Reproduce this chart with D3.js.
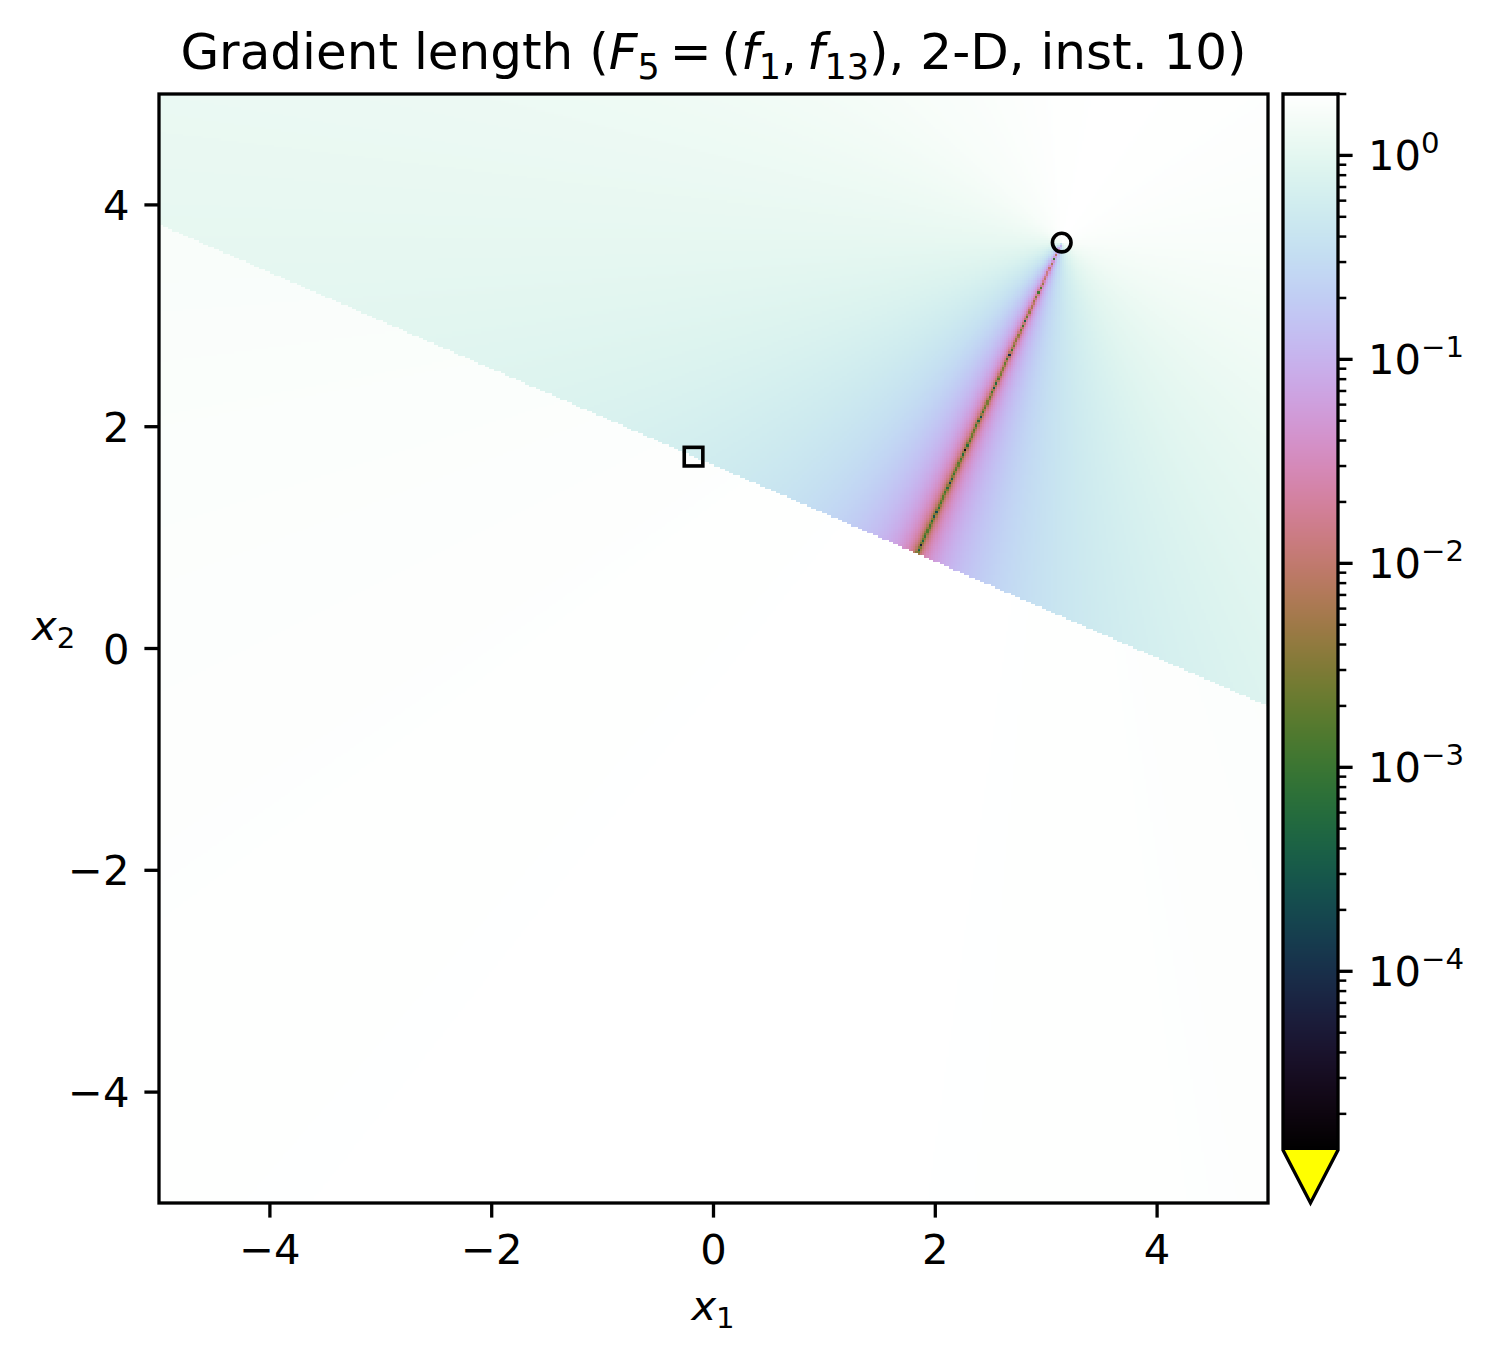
<!DOCTYPE html>
<html><head><meta charset="utf-8">
<script src="https://cdn.jsdelivr.net/npm/d3@7"></script>
<style>body{margin:0;background:#fff} svg{display:block} text{font-family:"DejaVu Sans",sans-serif;fill:#000}</style>
</head><body>
<svg id="chart" width="1494" height="1359"></svg>
<script>
// ---------------- data ----------------
const xTicks = [-4, -2, 0, 2, 4];
const yTicks = [-4, -2, 0, 2, 4];
const cbarMajorExp = [0, -1, -2, -3, -4];
const f1Optimum = [3.14, 3.66];    // open circle
const f13Optimum = [-0.18, 1.73];  // open square
const ridgeX = [-5, 5];            // ridge of f13 (edge of the white region)
const ridgeY = [3.825, -0.52];
// gradient length above the ridge, by direction (deg) seen from the circle
const upperAngle = [0, 30, 65, 90, 135, 180, 200, 210, 225, 235, 240, 243, 245.05, 247, 250, 255, 260, 270, 285, 300, 330, 360];
const upperValue = [1.69, 1.90, 2.00, 1.95, 1.64, 1.07, 0.77, 0.60, 0.35, 0.17, 0.087, 0.035, 0.00002, 0.035, 0.087, 0.17, 0.26, 0.43, 0.68, 0.93, 1.35, 1.69];
// gradient length below the ridge, by direction (deg) seen from the circle
const lowerAngle = [170, 180, 200, 225, 246, 270, 295, 300];
const lowerValue = [1.62, 1.70, 1.84, 1.96, 2.00, 1.96, 1.83, 1.80];
const colorMin = 1.33e-5, colorMax = 2.0;
const gridCells = 500;

// ---------------- layout ----------------
const L = 159, R = 1268, T = 94, B = 1203;
const CB = {x0: 1283, x1: 1338, top: 94, bot: 1150, tip: 1203};
const FS = 41.7;

const svg = d3.select('#chart');
const x = d3.scaleLinear().domain([-5, 5]).range([L, R]);
const y = d3.scaleLinear().domain([-5, 5]).range([B, T]);
const color = d3.scaleSequentialLog(d3.interpolateCubehelixDefault).domain([colorMin, colorMax]).clamp(true);
const upper = d3.scaleLinear().domain(upperAngle).range(upperValue).clamp(true);
const lower = d3.scaleLinear().domain(lowerAngle).range(lowerValue).clamp(true);
const ridge = d3.scaleLinear().domain(ridgeX).range(ridgeY);

// ---------------- heatmap ----------------
const W = R - L, H = B - T;
const canvas = document.createElement('canvas');
canvas.width = W; canvas.height = H;
const ctx = canvas.getContext('2d');
const step = 10 / gridCells;
for (let i = 0; i < gridCells; i++) {
  const xa = -5 + i * step, xb = xa + step, xc = xa + step / 2;
  const px0 = Math.round(x(xa)) - L, px1 = Math.round(x(xb)) - L;
  for (let j = 0; j < gridCells; j++) {
    const ya = -5 + j * step, yb = ya + step, yc = ya + step / 2;
    const py0 = Math.round(y(yb)) - T, py1 = Math.round(y(ya)) - T;
    let ang = Math.atan2(yc - f1Optimum[1], xc - f1Optimum[0]) * 180 / Math.PI;
    if (ang < 0) ang += 360;
    const v = yc > ridge(xc) ? upper(ang) : lower(ang);
    ctx.fillStyle = v < colorMin ? '#ffff00' : color(v);
    ctx.fillRect(px0, py0, px1 - px0, py1 - py0);
  }
}
svg.append('image').attr('x', L).attr('y', T).attr('width', W).attr('height', H)
  .attr('preserveAspectRatio', 'none').attr('href', canvas.toDataURL());

// markers
svg.append('circle').attr('cx', x(f1Optimum[0])).attr('cy', y(f1Optimum[1])).attr('r', 9.3)
  .attr('fill', 'none').attr('stroke', '#000').attr('stroke-width', 3.6);
svg.append('rect').attr('x', x(f13Optimum[0]) - 9.3).attr('y', y(f13Optimum[1]) - 9.3).attr('width', 18.6).attr('height', 18.6)
  .attr('fill', 'none').attr('stroke', '#000').attr('stroke-width', 3.6);

// frame
svg.append('rect').attr('x', L).attr('y', T).attr('width', W).attr('height', H)
  .attr('fill', 'none').attr('stroke', '#000').attr('stroke-width', 3.3);

// ticks
const fmt = v => (v < 0 ? '\u2212' + Math.abs(v) : String(v));
const gx = svg.append('g');
xTicks.forEach(v => {
  gx.append('line').attr('x1', x(v)).attr('x2', x(v)).attr('y1', B).attr('y2', B + 14.6).attr('stroke', '#000').attr('stroke-width', 3.3);
  gx.append('text').attr('x', x(v)).attr('y', B + 61).attr('text-anchor', 'middle').attr('font-size', FS).text(fmt(v));
});
const gy = svg.append('g');
yTicks.forEach(v => {
  gy.append('line').attr('x1', L - 14.6).attr('x2', L).attr('y1', y(v)).attr('y2', y(v)).attr('stroke', '#000').attr('stroke-width', 3.3);
  gy.append('text').attr('x', L - 29.5).attr('y', y(v) + 15).attr('text-anchor', 'end').attr('font-size', FS).text(fmt(v));
});

// rich text helper
function rich(sel, parts, size) {
  let shift = 0;
  parts.forEach(p => {
    const t = sel.append('tspan').text(p.t);
    let target = 0;
    if (p.sub) target = 0.2 * size;
    if (p.sup) target = -0.42 * size;
    t.attr('dy', target - shift);
    shift = target;
    if (p.i) t.attr('font-style', 'italic');
    if (p.sub || p.sup) t.attr('font-size', size * 0.7);
  });
}

// axis labels
const xl = svg.append('text').attr('x', 713).attr('y', 1320).attr('text-anchor', 'middle').attr('font-size', FS);
rich(xl, [{t: 'x', i: true}, {t: '1', sub: true}], FS);
const yl = svg.append('text').attr('x', 32).attr('y', 640).attr('font-size', FS);
rich(yl, [{t: 'x', i: true}, {t: '2', sub: true}], FS);

// title
const title = svg.append('text').attr('x', 713.5).attr('y', 69).attr('text-anchor', 'middle').attr('font-size', 50);
rich(title, [
  {t: 'Gradient length ('}, {t: 'F', i: true}, {t: '5', sub: true}, {t: '\u2009=\u2009('},
  {t: 'f', i: true}, {t: '1', sub: true}, {t: ',\u2009'}, {t: 'f', i: true}, {t: '13', sub: true},
  {t: '), 2-D, inst. 10)'}
], 50);

// ---------------- colorbar ----------------
const cy = d3.scaleLog().domain([colorMin, colorMax]).range([CB.bot, CB.top]);
const cb = svg.append('g');
cb.selectAll('rect.row').data(d3.range(CB.top, CB.bot)).join('rect').attr('class', 'row')
  .attr('x', CB.x0).attr('y', d => d).attr('width', CB.x1 - CB.x0).attr('height', 1.2)
  .attr('fill', d => color(cy.invert(d + 0.5)));
const midX = (CB.x0 + CB.x1) / 2;
cb.append('path').attr('d', `M${CB.x0},${CB.bot}L${midX},${CB.tip}L${CB.x1},${CB.bot}Z`).attr('fill', '#ffff00');
cb.append('path').attr('d', `M${CB.x0},${CB.top}L${CB.x1},${CB.top}L${CB.x1},${CB.bot}L${midX},${CB.tip}L${CB.x0},${CB.bot}Z`)
  .attr('fill', 'none').attr('stroke', '#000').attr('stroke-width', 3.3).attr('stroke-linejoin', 'miter');
// minor ticks
const minorVals = [];
for (let e = -5; e <= 0; e++) for (let m = 2; m <= 9; m++) {
  const v = m * Math.pow(10, e);
  if (v >= colorMin && v <= colorMax * 1.001) minorVals.push(v);
}
minorVals.forEach(v => {
  cb.append('line').attr('x1', CB.x1).attr('x2', CB.x1 + 8.3).attr('y1', cy(v)).attr('y2', cy(v)).attr('stroke', '#000').attr('stroke-width', 2.5);
});
cbarMajorExp.forEach(e => {
  const yy = cy(Math.pow(10, e));
  cb.append('line').attr('x1', CB.x1).attr('x2', CB.x1 + 14.6).attr('y1', yy).attr('y2', yy).attr('stroke', '#000').attr('stroke-width', 3.3);
  const t = cb.append('text').attr('x', 1368).attr('y', yy + 15).attr('font-size', FS);
  rich(t, [{t: '10'}, {t: fmt(e), sup: true}], FS);
});
</script>
</body></html>
